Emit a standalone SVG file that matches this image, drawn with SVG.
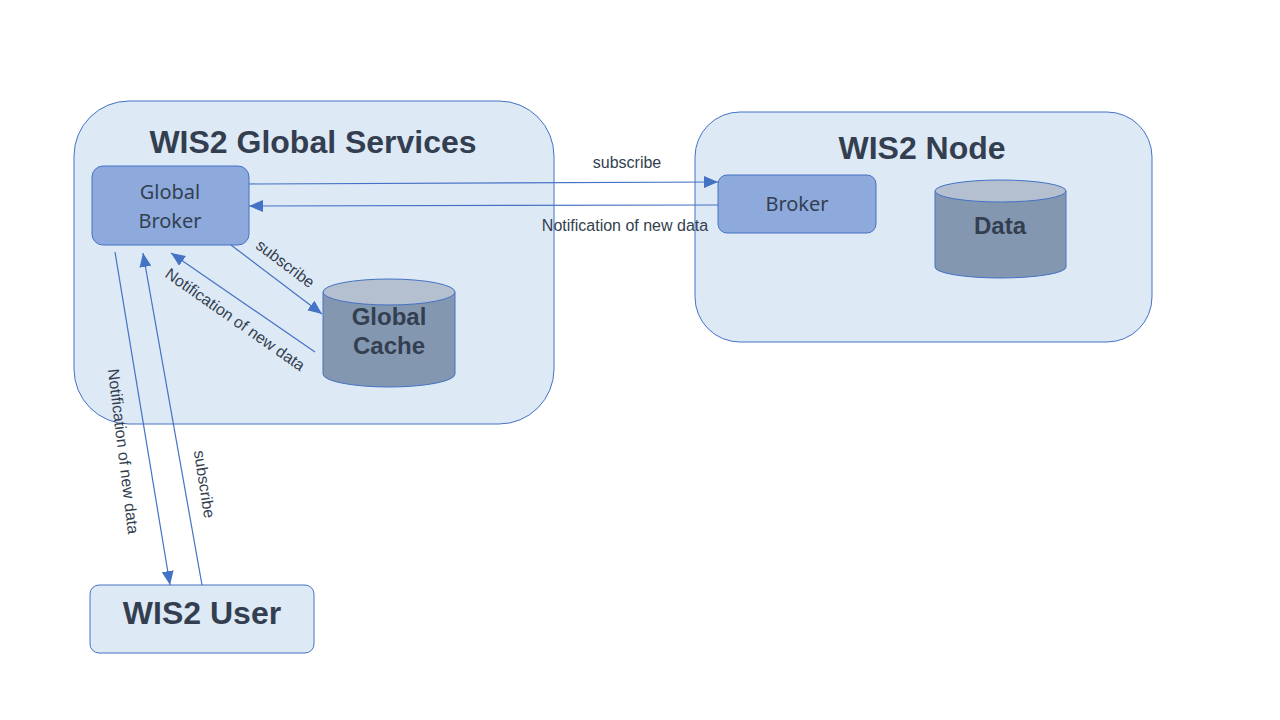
<svg xmlns="http://www.w3.org/2000/svg" width="1280" height="720" viewBox="0 0 1280 720">
<style>
.cont{fill:#dee9f6;stroke:#4472c4;stroke-width:1}
.box{fill:#8eaadc;stroke:#4472c4;stroke-width:1}
.cylb{fill:#8497b0;stroke:#4472c4;stroke-width:1}
.cylt{fill:#b4c0d0;stroke:#4472c4;stroke-width:1}
.title{font-family:"Liberation Sans",Arial,sans-serif;font-weight:bold;font-size:32px;fill:#333f50;text-anchor:middle}
.lbl{font-family:"Noto Sans","Open Sans",sans-serif;font-size:20px;fill:#333f50;text-anchor:middle}
.cyl{font-family:"Liberation Sans",Arial,sans-serif;font-weight:bold;font-size:24px;fill:#333f50;text-anchor:middle}
.el{font-family:"Liberation Sans",Arial,sans-serif;font-size:16px;fill:#333f50;text-anchor:middle}
.conn line{stroke:#4472c4;stroke-width:1.2;fill:none}
</style>
<defs>
<marker id="ah" markerWidth="14" markerHeight="12" refX="14" refY="6" orient="auto" markerUnits="userSpaceOnUse">
<path d="M0,0 L14,6 L0,12 Z" fill="#4472c4"/>
</marker>
</defs>
<rect width="1280" height="720" fill="#ffffff"/>
<g id="global-services">
<rect class="cont" x="74" y="101" width="480" height="323" rx="55"/>
<text class="title" x="313" y="153">WIS2 Global Services</text>
</g>
<g id="wis2-node">
<rect class="cont" x="695" y="112" width="457" height="230" rx="45"/>
<text class="title" x="922" y="159">WIS2 Node</text>
</g>
<g id="global-broker">
<rect class="box" x="92" y="166" width="157" height="79" rx="11"/>
<text class="lbl" x="170" y="199">Global</text>
<text class="lbl" x="170" y="228">Broker</text>
</g>
<g id="global-cache">
<path class="cylb" d="M323,292 L323,374 A66,13 0 0 0 455,374 L455,292 Z"/>
<ellipse class="cylt" cx="389" cy="292" rx="66" ry="13"/>
<text class="cyl" x="389" y="325">Global</text>
<text class="cyl" x="389" y="354">Cache</text>
</g>
<g id="broker">
<rect class="box" x="718" y="175" width="158" height="58" rx="9"/>
<text class="lbl" x="797" y="211">Broker</text>
</g>
<g id="data">
<path class="cylb" d="M935,191 L935,267 A65.5,11 0 0 0 1066,267 L1066,191 Z"/>
<ellipse class="cylt" cx="1000.5" cy="191" rx="65.5" ry="11"/>
<text class="cyl" x="1000" y="234">Data</text>
</g>
<g id="wis2-user">
<rect class="cont" x="90" y="585" width="224" height="68" rx="9"/>
<text class="title" x="202" y="624">WIS2 User</text>
</g>
<g id="connectors" class="conn">
<line x1="249" y1="184" x2="718" y2="182" marker-end="url(#ah)"/>
<line x1="718" y1="205" x2="249" y2="206" marker-end="url(#ah)"/>
<line x1="231" y1="245" x2="322" y2="314" marker-end="url(#ah)"/>
<line x1="315" y1="352" x2="171" y2="253" marker-end="url(#ah)"/>
<line x1="115" y1="252" x2="170" y2="585" marker-end="url(#ah)"/>
<line x1="202" y1="585" x2="143" y2="253" marker-end="url(#ah)"/>
</g>
<g id="connector-labels">
<text class="el" x="627" y="168">subscribe</text>
<text class="el" x="625" y="231">Notification of new data</text>
<text class="el" transform="translate(282,268) rotate(37)">subscribe</text>
<text class="el" transform="translate(232,324) rotate(35)">Notification of new data</text>
<text class="el" transform="translate(118,452) rotate(83)">Notification of new data</text>
<text class="el" transform="translate(199,485) rotate(81)">subscribe</text>
</g>
</svg>
